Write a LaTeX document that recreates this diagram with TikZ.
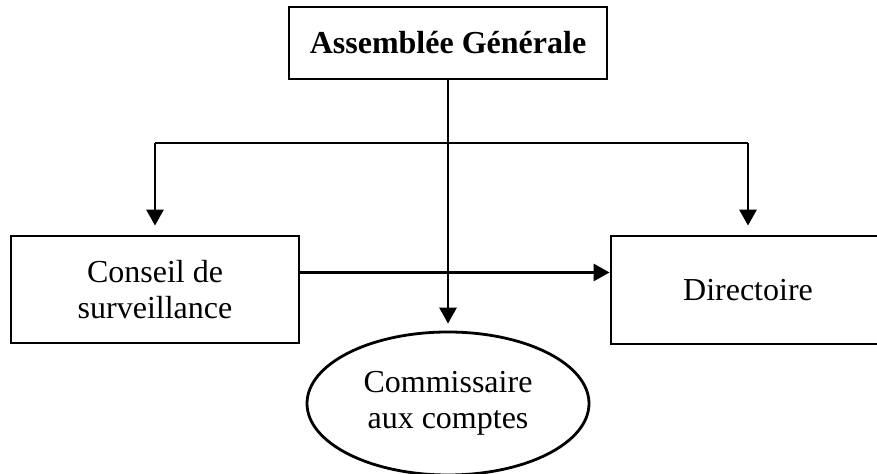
\documentclass[tikz,border=0pt]{standalone}
\usepackage{fontspec}
\setmainfont{Liberation Serif}
\usetikzlibrary{arrows.meta,shapes.geometric,calc}

\tikzset{
  box/.style={draw, line width=1.4pt, rectangle, inner sep=0pt, align=center,
              font=\fontsize{16}{18}\selectfont},
  oval/.style={draw, line width=1.4pt, ellipse, inner sep=0pt, align=center,
               minimum width=141pt, minimum height=71.5pt,
               font=\fontsize{16}{18}\selectfont},
  link/.style={line width=1.4pt},
  arr/.style={line width=1.4pt, -{Triangle[length=8pt,width=8.5pt]}}
}

\begin{document}
\begin{tikzpicture}[x=0.5pt, y=-0.5pt]
  \useasboundingbox (0,0) rectangle (877,474);
  \clip (0,0) rectangle (877,474);

  % boxes
  \node[box, minimum width=159pt, minimum height=36pt] (ag) at (448,43)
    {\textbf{Assemblée Générale}};
  \node[box, minimum width=144pt, minimum height=53.5pt] (cs) at (155,289.5)
    {Conseil de\\surveillance};
  \node[box, minimum width=137pt, minimum height=54pt] (dir) at (748,290)
    {Directoire};
  \node[oval] (cac) at (448,403.5) {Commissaire\\aux comptes};

  % distribution bar
  \coordinate (bl) at (155,143);
  \coordinate (br) at (748,143);
  \draw[link] (bl) -- (br);
  \draw[arr] (bl) -- ([yshift=4.5pt]cs.north);
  \draw[arr] (br) -- ([yshift=4.5pt]dir.north);

  % from the general assembly to the auditors
  \draw[arr, shorten >=3.5pt] (ag.south) -- (cac.north);

  % supervisory board to management board
  \draw[arr] ([yshift=8.5pt]cs.east) -- ([yshift=8.5pt]cs.east -| dir.west);
\end{tikzpicture}
\end{document}
